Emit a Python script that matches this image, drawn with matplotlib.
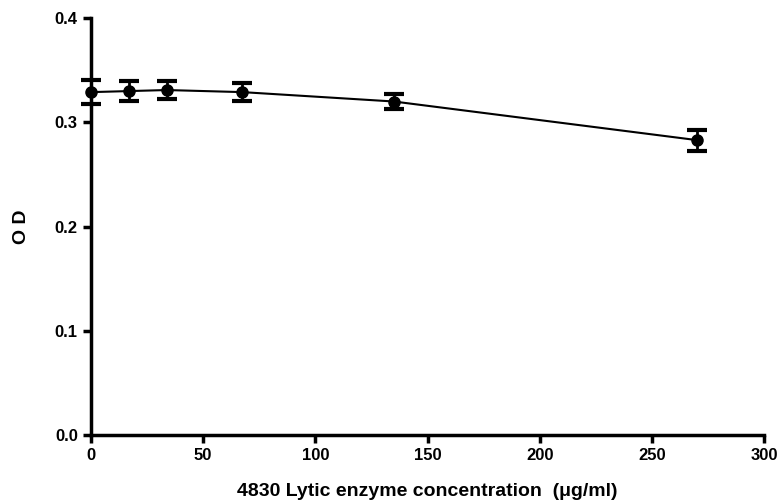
import matplotlib
matplotlib.use('Agg')
import matplotlib.pyplot as plt

# enzyme concentration (ug/ml) and optical density
conc = [0, 16.875, 33.75, 67.5, 135, 270]
od = [0.329, 0.330, 0.331, 0.329, 0.320, 0.283]
od_err = [0.0115, 0.0095, 0.0085, 0.0085, 0.0075, 0.010]

x_ticks = [0, 50, 100, 150, 200, 250, 300]
y_ticks = [0.0, 0.1, 0.2, 0.3, 0.4]

plt.rcParams['font.family'] = ['Liberation Sans', 'DejaVu Sans']
plt.rcParams['font.weight'] = 'bold'

fig = plt.figure(figsize=(7.78, 5.03), dpi=100)
ax = fig.add_axes([0.117, 0.135, 0.865, 0.829])

ax.errorbar(conc, od, yerr=od_err, color='black', marker='o', markersize=8,
            linewidth=1.5, elinewidth=2, capsize=7, capthick=3, clip_on=False, zorder=3)

ax.set_xlim(0, 300)
ax.set_ylim(0, 0.4)
ax.set_xticks(x_ticks)
ax.set_yticks(y_ticks)
ax.set_yticklabels([f'{v:.1f}' for v in y_ticks])

for side in ['top', 'right']:
    ax.spines[side].set_visible(False)
for side in ['left', 'bottom']:
    ax.spines[side].set_linewidth(2.5)
ax.tick_params(direction='out', width=2.5, length=6, labelsize=12)

ax.set_xlabel('4830 Lytic enzyme concentration  (\u03bcg/ml)', fontsize=14,
              fontweight='bold', labelpad=14)
ax.set_ylabel('O D', fontsize=14, fontweight='bold', labelpad=18)

plt.savefig('out.png', dpi=100)
plt.close()
